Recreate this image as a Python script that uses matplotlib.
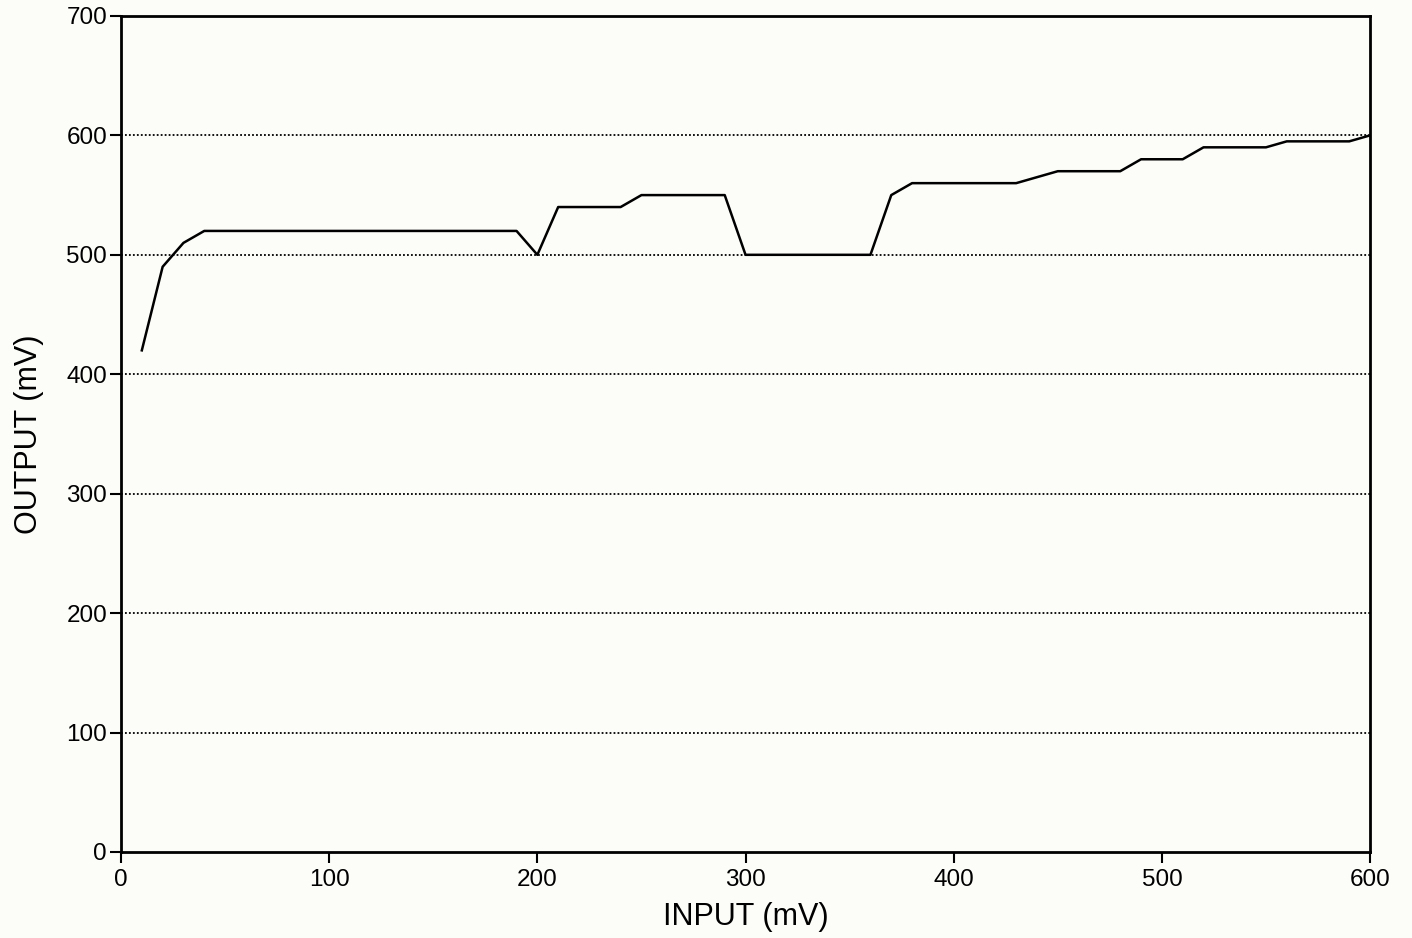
import numpy as np
import matplotlib.pyplot as plt

plt.rcParams['font.family'] = ['Liberation Sans', 'DejaVu Sans']

# input / output readings (mV)
inp = [10, 20, 30, 40, 190, 200, 210, 240, 250, 290, 300, 360, 370, 380,
       430, 450, 480, 490, 510, 520, 550, 560, 590, 600]
out = [420, 490, 510, 520, 520, 500, 540, 540, 550, 550, 500, 500, 550, 560,
       560, 570, 570, 580, 580, 590, 590, 595, 595, 600]

x_ticks = [0, 100, 200, 300, 400, 500, 600]
y_ticks = [0, 100, 200, 300, 400, 500, 600, 700]

fig = plt.figure(figsize=(14.12, 9.38), dpi=100, facecolor='#fcfcf9')
ax = fig.add_axes([0.0857, 0.0917, 0.8846, 0.8913])
ax.set_facecolor('#fcfcf9')

for y in y_ticks[1:-1]:
    ax.axhline(y, color='black', linestyle=(0, (1, 1.2)), linewidth=1.3, zorder=1)

ax.plot(inp, out, color='black', linewidth=1.8, zorder=3)

ax.set_xlim(0, 600)
ax.set_ylim(0, 700)
ax.set_xticks(x_ticks)
ax.set_yticks(y_ticks)
ax.tick_params(direction='out', length=8, width=1.5, labelsize=17.5, pad=2)
ax.tick_params(axis='x', pad=4)
for s in ax.spines.values():
    s.set_linewidth(2)

ax.set_xlabel('INPUT (mV)', fontsize=22, labelpad=8)
ax.set_ylabel('OUTPUT (mV)', fontsize=22, labelpad=16)

fig.savefig('out.png', dpi=100, facecolor=fig.get_facecolor())
